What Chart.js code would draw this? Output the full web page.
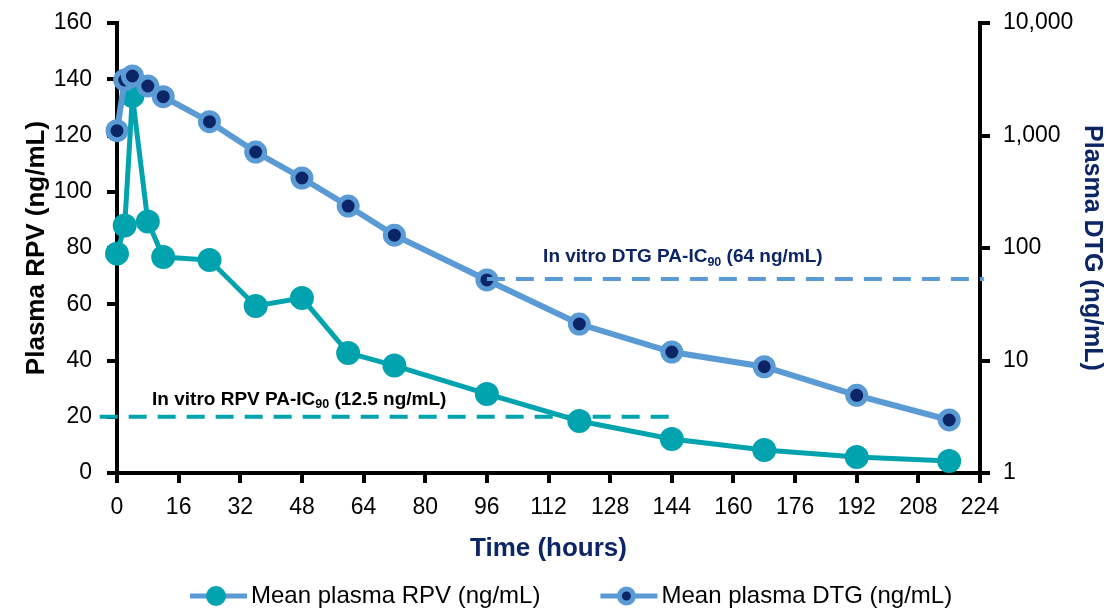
<!DOCTYPE html>
<html>
<head>
<meta charset="utf-8">
<script src="https://cdn.jsdelivr.net/npm/chart.js@4.4.1/dist/chart.umd.min.js"></script>
<style>
  html, body { margin: 0; padding: 0; background: #fff; }
  #wrap { width: 1107px; height: 609px; }
</style>
</head>
<body>
<div id="wrap"><canvas id="pkChart" width="1107" height="609"></canvas></div>
<script>
// valeurs
const hours = [0, 2, 4, 8, 12, 24, 36, 48, 60, 72, 96, 120, 144, 168, 192, 216];
const rpvMean = [78, 88, 134, 89.4, 76.8, 75.7, 59.4, 62.2, 42.7, 38.2, 28.1, 18.5, 12.1, 8.2, 5.7, 4.3];
const dtgMean = [1104, 3115, 3380, 2755, 2213, 1326, 713, 419, 236, 130, 52, 21.1, 11.9, 8.8, 4.9, 2.96];

const rpvIc90Hours = [-4.5, 144];
const rpvIc90Level = 20;
const dtgIc90Hours = [96, 225];
const dtgIc90Level = 53;

const timeTicks = [0, 16, 32, 48, 64, 80, 96, 112, 128, 144, 160, 176, 192, 208, 224];
const rpvTicks = [0, 20, 40, 60, 80, 100, 120, 140, 160];
const dtgTicks = [1, 10, 100, 1000, 10000];

const seriesLabels = ['Mean plasma RPV (ng/mL)', 'Mean plasma DTG (ng/mL)'];
const rpvNote = ['In vitro RPV PA-IC', '90', ' (12.5 ng/mL)'];
const dtgNote = ['In vitro DTG PA-IC', '90', ' (64 ng/mL)'];

const TEAL = '#00A3AE';
const LIGHT_BLUE = '#5B9BD5';
const NAVY = '#0B2566';
const FONT = '"Liberation Sans", Arial, sans-serif';

Chart.defaults.font.family = FONT;
Chart.defaults.color = '#000';

const toPoints = (xs, ys) => xs.map((x, i) => ({ x: x, y: ys[i] }));

// texte des seuils IC90 avec indice
function drawNote(ctx, parts, x, y, color) {
  ctx.fillStyle = color;
  ctx.textBaseline = 'middle';
  ctx.font = 'bold 19px ' + FONT;
  ctx.fillText(parts[0], x, y);
  x += ctx.measureText(parts[0]).width;
  ctx.font = 'bold 12.5px ' + FONT;
  ctx.fillText(parts[1], x, y + 5);
  x += ctx.measureText(parts[1]).width;
  ctx.font = 'bold 19px ' + FONT;
  ctx.fillText(parts[2], x, y);
}

const notesPlugin = {
  id: 'notes',
  afterDatasetsDraw(chart) {
    const { ctx, scales } = chart;
    ctx.save();
    drawNote(ctx, rpvNote, scales.x.getPixelForValue(9.1), scales.y.getPixelForValue(26), '#000');
    drawNote(ctx, dtgNote, scales.x.getPixelForValue(110.6), scales.y1.getPixelForValue(83), NAVY);
    ctx.restore();
  }
};

// légende maison : trait + marqueur
const legendPlugin = {
  id: 'pkLegend',
  afterDraw(chart) {
    const ctx = chart.ctx;
    const y = 596;
    let x = 190;
    ctx.save();
    ctx.font = '24px ' + FONT;
    ctx.textBaseline = 'middle';
    [0, 1].forEach(i => {
      const ds = chart.data.datasets[i];
      ctx.strokeStyle = ds.borderColor;
      ctx.lineWidth = 5;
      ctx.beginPath();
      ctx.moveTo(x, y);
      ctx.lineTo(x + 57, y);
      ctx.stroke();
      ctx.beginPath();
      if (i === 0) {
        ctx.fillStyle = TEAL;
        ctx.arc(x + 26, y, 10, 0, Math.PI * 2);
        ctx.fill();
      } else {
        ctx.fillStyle = NAVY;
        ctx.arc(x + 26, y, 7, 0, Math.PI * 2);
        ctx.fill();
        ctx.lineWidth = 5;
        ctx.strokeStyle = LIGHT_BLUE;
        ctx.stroke();
      }
      ctx.fillStyle = '#000';
      ctx.fillText(seriesLabels[i], x + 61, y);
      x += 61 + ctx.measureText(seriesLabels[i]).width + 60;
    });
    ctx.restore();
  }
};

const axisGrid = {
  drawOnChartArea: false,
  drawTicks: true,
  tickLength: 10,
  tickWidth: 4,
  tickColor: '#000',
  lineWidth: 4,
  color: '#000'
};
const axisBorder = { display: true, width: 4, color: '#000' };

// largeur fixe des axes verticaux, sans marge haute/basse ajoutée
const fixWidth = w => s => {
  s.width = w;
  s.paddingTop = 0;
  s.paddingBottom = 0;
};

new Chart(document.getElementById('pkChart').getContext('2d'), {
  type: 'line',
  data: {
    datasets: [
      {
        label: 'DTG IC90',
        data: toPoints(dtgIc90Hours, [dtgIc90Level, dtgIc90Level]),
        yAxisID: 'y1',
        borderColor: LIGHT_BLUE,
        borderWidth: 4,
        borderDash: [18, 11],
        pointRadius: 0,
        fill: false,
        clip: false,
        order: 0
      },
      {
        label: seriesLabels[1],
        data: toPoints(hours, dtgMean),
        yAxisID: 'y1',
        borderColor: LIGHT_BLUE,
        borderWidth: 6,
        pointRadius: 9,
        pointBorderWidth: 5,
        pointBackgroundColor: NAVY,
        pointBorderColor: LIGHT_BLUE,
        fill: false,
        clip: false,
        order: 1
      },
      {
        label: seriesLabels[0],
        data: toPoints(hours, rpvMean),
        yAxisID: 'y',
        borderColor: TEAL,
        borderWidth: 5,
        pointRadius: 11,
        pointBorderWidth: 2,
        pointBackgroundColor: TEAL,
        pointBorderColor: TEAL,
        fill: false,
        clip: false,
        order: 2
      },
      {
        label: 'RPV IC90',
        data: toPoints(rpvIc90Hours, [rpvIc90Level, rpvIc90Level]),
        yAxisID: 'y',
        borderColor: TEAL,
        borderWidth: 4,
        borderDash: [18, 11],
        pointRadius: 0,
        fill: false,
        clip: false,
        order: 3
      }
    ]
  },
  options: {
    responsive: false,
    animation: false,
    layout: { padding: { top: 23, left: 0, right: 0, bottom: 0 } },
    plugins: {
      legend: { display: false },
      tooltip: { enabled: false }
    },
    scales: {
      x: {
        type: 'linear',
        min: 0,
        max: 224,
        afterFit: s => { s.height = 136; s.paddingLeft = 0; s.paddingRight = 0; },
        afterBuildTicks: s => { s.ticks = timeTicks.map(v => ({ value: v })); },
        grid: axisGrid,
        border: axisBorder,
        ticks: { font: { size: 23 }, padding: 11, maxRotation: 0, autoSkip: false },
        title: {
          display: true,
          text: 'Time (hours)',
          color: NAVY,
          font: { size: 26, weight: 'bold' },
          padding: { top: 0, bottom: 45 }
        }
      },
      y: {
        type: 'linear',
        position: 'left',
        min: 0,
        max: 160,
        afterFit: fixWidth(117),
        afterBuildTicks: s => { s.ticks = rpvTicks.map(v => ({ value: v })); },
        grid: axisGrid,
        border: axisBorder,
        ticks: { font: { size: 23 }, padding: 15 },
        title: {
          display: true,
          text: 'Plasma RPV (ng/mL)',
          color: '#000',
          font: { size: 26, weight: 'bold' },
          padding: { top: 21, bottom: 0 }
        }
      },
      y1: {
        type: 'logarithmic',
        position: 'right',
        min: 1,
        max: 10000,
        afterFit: fixWidth(127),
        afterBuildTicks: s => { s.ticks = dtgTicks.map(v => ({ value: v })); },
        grid: axisGrid,
        border: axisBorder,
        ticks: {
          font: { size: 23 },
          padding: 13,
          callback: v => Number(v).toLocaleString('en-US')
        },
        title: {
          display: true,
          text: 'Plasma DTG (ng/mL)',
          color: NAVY,
          font: { size: 25, weight: 'bold' },
          padding: { top: 0, bottom: 0 }
        }
      }
    }
  },
  plugins: [notesPlugin, legendPlugin]
});
</script>
</body>
</html>
